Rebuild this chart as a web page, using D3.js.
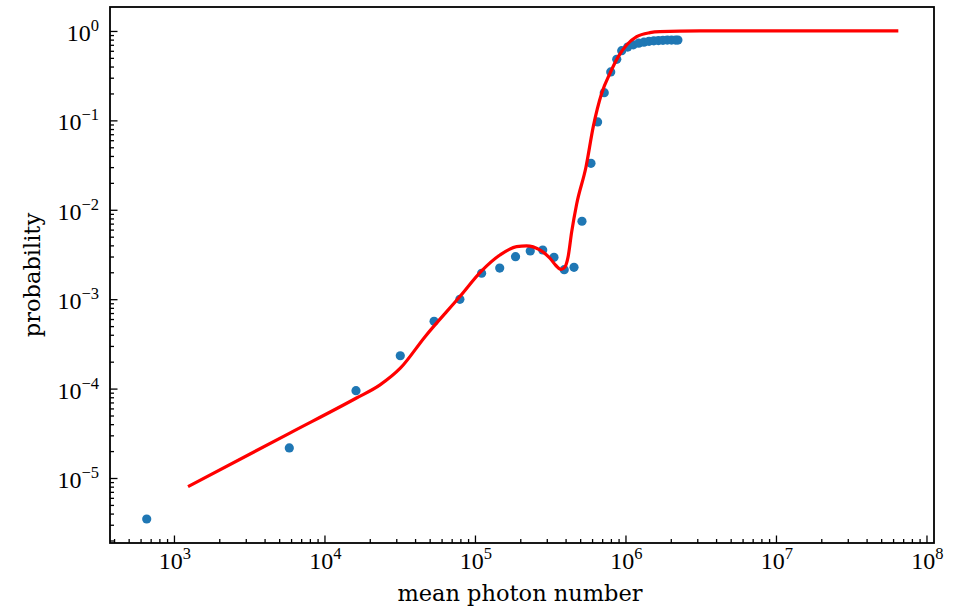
<!DOCTYPE html>
<html>
<head>
<meta charset="utf-8">
<script src="https://cdn.jsdelivr.net/npm/d3@7/dist/d3.min.js"></script>
<style>
  html, body { margin: 0; padding: 0; background: #fff; }
  svg { display: block; }
</style>
</head>
<body>
<svg id="chart" width="957" height="610"></svg>
<script>
// measured data points (mean photon number, probability)
const pointsX = [659, 5840, 16200, 31900, 53500, 79400, 110700, 146000, 186000, 233000,
  282000, 335000, 392000, 455000, 514000, 590000, 653000, 723000, 798000, 875000,
  944000, 1034000, 1128000, 1225000, 1327000, 1433000, 1543000, 1656000, 1774000,
  1896000, 2022000, 2152000, 2230000];
const pointsY = [3.48e-6, 2.17e-5, 9.48e-5, 2.33e-4, 5.66e-4, 9.97e-4, 1.95e-3, 2.23e-3, 2.99e-3, 3.46e-3,
  3.55e-3, 2.94e-3, 2.14e-3, 2.27e-3, 7.44e-3, 0.0331, 0.0960, 0.204, 0.348, 0.482,
  0.602, 0.66, 0.70, 0.73, 0.75, 0.765, 0.775, 0.78, 0.785,
  0.79, 0.79, 0.79, 0.79];

// fitted model curve
const fitX = [1240, 5840, 16200, 23400, 31900, 46600, 79400, 110700, 146600, 189000, 220000,
  270000, 315000, 345000, 373000, 396000, 415000, 439000, 474000, 547000, 611000, 695000,
  789000, 896000, 1018000, 1187000, 1455000, 1690000, 3130000, 65000000];
const fitY = [8.0e-6, 3.16e-5, 7.8e-5, 1.10e-4, 1.69e-4, 3.81e-4, 1.07e-3, 2.07e-3, 3.12e-3, 3.87e-3, 3.94e-3,
  3.55e-3, 2.87e-3, 2.38e-3, 2.15e-3, 2.29e-3, 2.93e-3, 5.64e-3, 0.0116, 0.0303, 0.0851, 0.201,
  0.336, 0.516, 0.697, 0.863, 0.957, 0.982, 1.0, 1.0];

// tick exponents
const xTickExps = [3, 4, 5, 6, 7, 8];
const yTickExps = [0, -1, -2, -3, -4, -5];
const xLabel = "mean photon number";
const yLabel = "probability";

const svg = d3.select("#chart");
const L = 110, R = 934, T = 7, B = 543;

const x = d3.scaleLog().domain([Math.pow(10, 2.575), Math.pow(10, 8.05)]).range([L, R]);
const y = d3.scaleLog().domain([Math.pow(10, -5.727), Math.pow(10, 0.268)]).range([B, T]);

function minorTicks(scale) {
  const [a, b] = scale.domain();
  const out = [];
  for (let e = Math.floor(Math.log10(a)); e <= Math.ceil(Math.log10(b)); e++) {
    for (let m = 2; m <= 9; m++) {
      const v = m * Math.pow(10, e);
      if (v >= a && v <= b) out.push(v);
    }
  }
  return out;
}

const tickFont = "'Liberation Serif', 'Times New Roman', serif";
const labelFont = "'DejaVu Serif', serif";

const xMajor = xTickExps.map(e => Math.pow(10, e));
const yMajor = yTickExps.map(e => Math.pow(10, e));

function styleAxis(g) {
  g.select(".domain").remove();
  g.selectAll("line").attr("stroke", "#000").attr("stroke-width", 1.3);
  g.selectAll("text").remove();
}

svg.append("g").attr("transform", `translate(0,${B})`)
  .call(d3.axisBottom(x).tickValues(minorTicks(x)).tickSizeInner(-4).tickSizeOuter(0).tickFormat(""))
  .call(styleAxis);
svg.append("g").attr("transform", `translate(0,${B})`)
  .call(d3.axisBottom(x).tickValues(xMajor).tickSizeInner(-7.5).tickSizeOuter(0).tickFormat(""))
  .call(styleAxis);
svg.append("g").attr("transform", `translate(${L},0)`)
  .call(d3.axisLeft(y).tickValues(minorTicks(y)).tickSizeInner(-4).tickSizeOuter(0).tickFormat(""))
  .call(styleAxis);
svg.append("g").attr("transform", `translate(${L},0)`)
  .call(d3.axisLeft(y).tickValues(yMajor).tickSizeInner(-7.5).tickSizeOuter(0).tickFormat(""))
  .call(styleAxis);

function expLabel(sel, e) {
  sel.append("tspan").text("10");
  sel.append("tspan").attr("dy", -10).attr("font-size", 16.5).text(e < 0 ? "\u2212" + (-e) : String(e));
}

// x tick labels
xTickExps.forEach(e => {
  const t = svg.append("text")
    .attr("x", x(Math.pow(10, e)) + 1)
    .attr("y", B + 26)
    .attr("text-anchor", "middle")
    .attr("font-family", tickFont)
    .attr("font-size", 24)
    .attr("fill", "#000");
  expLabel(t, e);
});

// y tick labels
yTickExps.forEach(e => {
  const t = svg.append("text")
    .attr("x", 99)
    .attr("y", y(Math.pow(10, e)) + 10)
    .attr("text-anchor", "end")
    .attr("font-family", tickFont)
    .attr("font-size", 24)
    .attr("fill", "#000");
  expLabel(t, e);
});

// fitted curve
const line = d3.line()
  .x((d, i) => x(fitX[i]))
  .y((d, i) => y(fitY[i]))
  .curve(d3.curveMonotoneX);

// points
svg.append("g").selectAll("circle")
  .data(pointsX)
  .join("circle")
  .attr("cx", (d) => x(d))
  .attr("cy", (d, i) => y(pointsY[i]))
  .attr("r", 4.6)
  .attr("fill", "#1f77b4");

svg.append("path")
  .datum(fitX)
  .attr("d", line)
  .attr("fill", "none")
  .attr("stroke", "#ff0000")
  .attr("stroke-width", 3.2)
  .attr("stroke-linejoin", "round");

// frame
svg.append("rect")
  .attr("x", L).attr("y", T)
  .attr("width", R - L).attr("height", B - T)
  .attr("fill", "none")
  .attr("stroke", "#000")
  .attr("stroke-width", 1.8);

// axis titles
svg.append("text")
  .attr("x", (L + R) / 2 - 2)
  .attr("y", 601)
  .attr("text-anchor", "middle")
  .attr("font-family", labelFont)
  .attr("font-size", 22.5)
  .attr("fill", "#000")
  .text(xLabel);

svg.append("text")
  .attr("transform", `translate(40,${(T + B) / 2}) rotate(-90)`)
  .attr("text-anchor", "middle")
  .attr("font-family", labelFont)
  .attr("font-size", 22.5)
  .attr("fill", "#000")
  .text(yLabel);
</script>
</body>
</html>
